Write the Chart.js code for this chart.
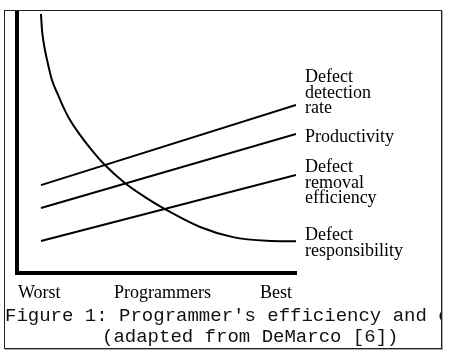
<!DOCTYPE html>
<html>
<head>
<meta charset="utf-8">
<script src="https://cdn.jsdelivr.net/npm/chart.js@4/dist/chart.umd.min.js"></script>
<style>
  body { margin: 0; background: #fff; width: 452px; height: 360px; position: relative; overflow: hidden; }
  #chart { position: absolute; left: 0; top: 0; }
  .lbl { position: absolute; font-family: "Liberation Serif", "DejaVu Serif", serif; font-size: 18px; line-height: 15.5px; color: #000; white-space: nowrap; }
  #frame { position: absolute; left: 4px; top: 10px; width: 438px; height: 339px; box-sizing: border-box; border: 1px solid #222; box-shadow: 1px 1px 0 #aaa; pointer-events: none; }
  #captionClip { position: absolute; left: 0; top: 300px; width: 441px; height: 48px; overflow: hidden; }
  .cap { position: absolute; font-family: "Liberation Mono", "DejaVu Sans Mono", monospace; font-size: 19px; line-height: 21px; color: #111; white-space: pre; }
</style>
</head>
<body>
<canvas id="chart" width="452" height="360"></canvas>

<div class="lbl" style="left:305px; top:69px;">Defect<br>detection<br>rate</div>
<div class="lbl" style="left:305px; top:129px;">Productivity</div>
<div class="lbl" style="left:305px; top:159px;">Defect<br>removal<br>efficiency</div>
<div class="lbl" style="left:305px; top:227px;">Defect<br>responsibility</div>

<div class="lbl" style="left:18px; top:285px;">Worst</div>
<div class="lbl" style="left:114px; top:285px;">Programmers</div>
<div class="lbl" style="left:260px; top:285px;">Best</div>

<div id="captionClip">
  <div class="cap" style="left:5px; top:6px;">Figure 1: Programmer's efficiency and effectiveness</div>
  <div class="cap" style="left:102px; top:27px;">(adapted from DeMarco [6])</div>
</div>

<div id="frame"></div>

<script>
// programmer skill, worst (0) .. best (100)
const lineX = [0, 100];
const detectionRate = [33.8, 64.6];
const productivity = [25.0, 53.5];
const removalEfficiency = [12.3, 37.7];

// defect responsibility curve
const respX = [0, 0.4, 1.2, 2.4, 4.3, 6.7, 8.6, 11.4, 15.3, 19.2, 24.3, 32.9, 40.8, 48.6, 62.4, 75.3, 88.6, 100];
const respY = [99.6, 93.5, 87.7, 81.9, 74.2, 68.5, 64.2, 58.8, 53.1, 48.1, 42.3, 34.6, 29.2, 24.6, 17.7, 13.8, 12.4, 12.2];

const toPoints = (xs, ys) => xs.map((x, i) => ({ x: x, y: ys[i] }));

const lineStyle = {
  borderColor: '#000',
  borderWidth: 2,
  pointRadius: 0,
  fill: false
};

const ctx = document.getElementById('chart').getContext('2d');
new Chart(ctx, {
  type: 'line',
  data: {
    datasets: [
      { label: 'Defect detection rate', data: toPoints(lineX, detectionRate), ...lineStyle },
      { label: 'Productivity', data: toPoints(lineX, productivity), ...lineStyle },
      { label: 'Defect removal efficiency', data: toPoints(lineX, removalEfficiency), ...lineStyle },
      { label: 'Defect responsibility', data: toPoints(respX, respY), ...lineStyle,
        cubicInterpolationMode: 'monotone' }
    ]
  },
  options: {
    responsive: false,
    animation: false,
    layout: { padding: { left: 17, top: 13, right: 156, bottom: 87 } },
    scales: {
      x: {
        type: 'linear', min: -9.4, max: 100,
        ticks: { display: false },
        grid: { display: false, drawTicks: false },
        border: { display: true, color: '#000', width: 4 }
      },
      y: {
        type: 'linear', min: 0, max: 100,
        ticks: { display: false },
        grid: { display: false, drawTicks: false },
        border: { display: true, color: '#000', width: 4 }
      }
    },
    plugins: { legend: { display: false }, tooltip: { enabled: false } }
  }
});
</script>
</body>
</html>
